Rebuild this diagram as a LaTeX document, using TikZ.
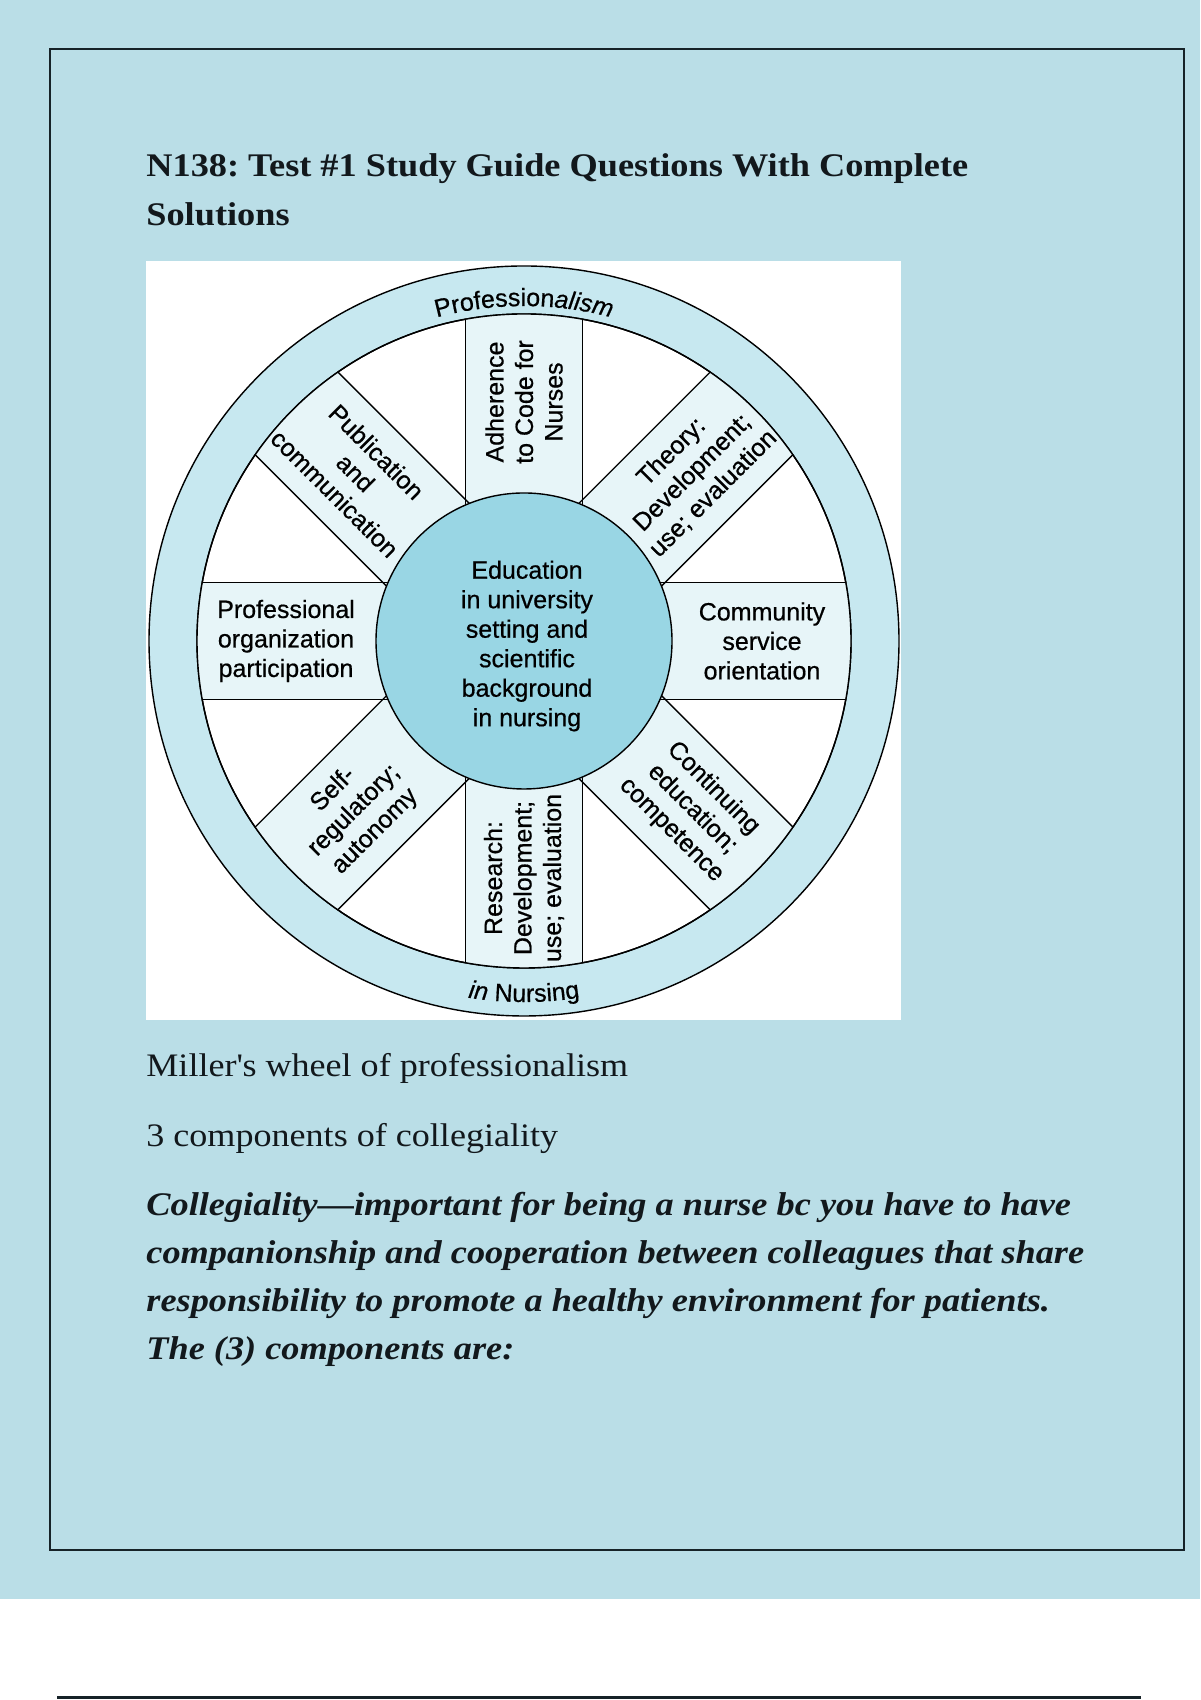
\documentclass[tikz,border=0pt]{standalone}
\usepackage{fontspec}
\setmainfont{Liberation Serif}[FakeStretch=1.1]
\newfontfamily\wheelfont{Liberation Sans}[FakeBold=0.6]
\usetikzlibrary{positioning,decorations.text}
\frenchspacing
\definecolor{pageblue}{RGB}{186,222,231}
\definecolor{bandblue}{RGB}{199,232,240}
\definecolor{spokeblue}{RGB}{231,245,248}
\definecolor{hubblue}{RGB}{153,214,228}
\definecolor{framedark}{RGB}{22,34,40}
\definecolor{inkblack}{RGB}{18,24,28}
\newcommand{\bandfont}{\wheelfont\fontsize{12.5}{15}\selectfont}
\tikzstyle{titletext} = [anchor=base west, inner sep=0pt, font=\fontsize{16.5}{22}\selectfont\bfseries, text=inkblack]
\tikzstyle{bodytext} = [anchor=base west, inner sep=0pt, font=\fontsize{16.4}{22}\selectfont, text=inkblack]
\tikzstyle{paratext} = [anchor=base west, inner sep=0pt, font=\fontsize{16.5}{22}\selectfont\bfseries\itshape, text=inkblack]
\tikzstyle{wheeltext} = [align=center, inner sep=0pt, font=\wheelfont\fontsize{12.5}{14.75}\selectfont, text=black]
\tikzstyle{wheelline} = [draw=black, line width=0.7pt]
\tikzstyle{spokefill} = [fill=spokeblue]
\tikzstyle{bandlabel} = [decorate, decoration={text along path, text align=center}]

\begin{document}
\begin{tikzpicture}[x=0.5pt, y=0.5pt]
\useasboundingbox (0,0) rectangle (1200,1700);

% Page background and frame
\fill[pageblue] (0,101) rectangle (1200,1700);
\draw[framedark, line width=1pt] (50,1651) rectangle (1184,150);
\draw[framedark, line width=1.2pt] (57,2.5) -- (1141,2.5);

% Title
\node[titletext] (title) at (146,1523) {N138: Test \#1 Study Guide Questions With Complete};
\node[titletext] (titlecont) at (146,1474) {Solutions};

% Wheel picture
\fill[white] (146,680) rectangle (901,1439);
\begin{scope}[shift={(524,1059)}]
  \filldraw[wheelline, fill=bandblue] (0,0) circle (375);
  \filldraw[wheelline, fill=white] (0,0) circle (327);
  \begin{scope}
    \clip (0,0) circle (327);
    \foreach \a in {0,45,90,135}
      \fill[spokefill, rotate=\a] (-340,-58.5) rectangle (340,58.5);
    \foreach \a in {0,45,90,135}
      \draw[wheelline, rotate=\a] (-340,-58.5) -- (340,-58.5) (-340,58.5) -- (340,58.5);
  \end{scope}
  \draw[wheelline] (0,0) circle (327);
  \filldraw[wheelline, fill=hubblue] (0,0) circle (148);

  % Ring labels
  \path[bandlabel, decoration={text={|\bandfont|Profession|\bandfont\itshape|alism}}]
    (180:335) arc[start angle=180, end angle=0, radius=335];
  \path[bandlabel, decoration={text={|\bandfont\itshape|in |\bandfont|Nursing}}]
    (180:361) arc[start angle=180, end angle=360, radius=361];

  % Hub
  \node[wheeltext] (education) at (3,-5) {Education\\in university\\setting and\\scientific\\background\\in nursing};

  % Spokes
  \node[wheeltext, rotate=90] (adherence) at (90:239) {Adherence\\to Code for\\Nurses};
  \node[wheeltext, rotate=45] (theory) at (45:238) {Theory:\\Development;\\use; evaluation};
  \node[wheeltext] (community) at (0:238) {Community\\service\\orientation};
  \node[wheeltext, rotate=-45] (continuing) at (-45:238) {Continuing\\education;\\competence};
  \node[wheeltext, rotate=90] (research) at (-90:237) {Research:\\Development;\\use; evaluation};
  \node[wheeltext, rotate=45] (selfreg) at (-135:240) {Self-\\regulatory;\\autonomy};
  \node[wheeltext] (proforg) at (180:238) {Professional\\organization\\participation};
  \node[wheeltext, rotate=-45] (publication) at (135:238) {Publication\\and\\communication};
\end{scope}

% Text below the wheel
\node[bodytext] (caption) at (146,623) {Miller\textquotesingle s wheel of professionalism};
\node[bodytext] (subhead) at (146,553) {3 components of collegiality};
\node[paratext] (para1) at (146,484) {Collegiality---important for being a nurse bc you have to have};
\node[paratext] (para2) at (146,436) {companionship and cooperation between colleagues that share};
\node[paratext] (para3) at (146,388) {responsibility to promote a healthy environment for patients.};
\node[paratext] (para4) at (146,340) {The (3) components are:};

\end{tikzpicture}
\end{document}
